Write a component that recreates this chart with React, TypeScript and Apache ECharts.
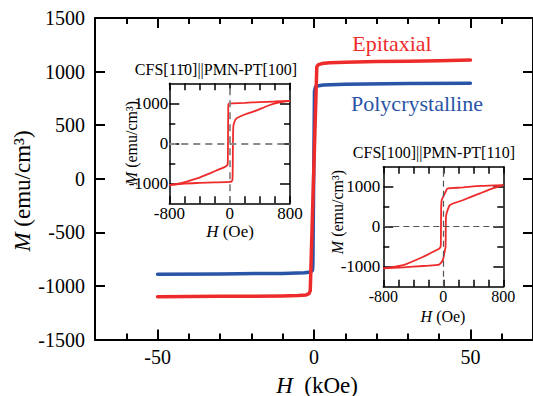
import React, { useEffect, useRef } from "react";
import * as echarts from "echarts";

// ---- Main plot data (H in kOe, M in emu/cm3) ----
const epiH = [-50, -40, -30, -20, -10, -5, -2.5, -1.6, -1.2, 0.9, 1.3, 2.5, 5, 10, 20, 30, 40, 50];
const epiM = [-1100, -1099, -1097, -1096, -1094, -1090, -1084, -1072, -1045, 1045, 1062, 1075, 1083, 1088, 1093, 1097, 1102, 1107];
const polyH = [-50, -30, -10, -3, -1, -0.5, -0.35, 0.15, 0.5, 1, 3, 10, 30, 50];
const polyM = [-890, -888, -883, -878, -870, -855, -800, 820, 858, 866, 875, 882, 888, 891];

// ---- Inset 1: CFS[1-10]||PMN-PT[100] (H in Oe) ----
const in1DescH = [800, 600, 400, 200, 50, 0, -12, -18, -22, -26, -40, -62, -150, -261, -400, -570, -700, -800];
const in1DescM = [1062, 1045, 1030, 1012, 1000, 995, 985, 950, 0, -520, -565, -590, -660, -750, -860, -958, -1015, -1045];
const in1AscH = [-800, -600, -400, -200, 0, 25, 38, 44, 48, 60, 93, 200, 313, 534, 650, 800];
const in1AscM = [-1045, -1005, -990, -978, -965, -955, -900, 0, 400, 520, 625, 720, 792, 958, 1020, 1062];

// ---- Inset 2: CFS[100]||PMN-PT[110] ----
const in2DescH = [800, 500, 267, 100, 53, 22, -21, -28, -31, -34, -50, -89, -267, -533, -800];
const in2DescM = [1040, 1020, 985, 962, 950, 833, 667, 500, 0, -480, -540, -583, -750, -958, -1040];
const in2AscH = [-800, -533, -267, -100, -53, -5, 9, 30, 33, 36, 44, 89, 267, 489, 650, 800];
const in2AscM = [-1040, -1015, -983, -962, -945, -833, -708, -500, 0, 250, 333, 542, 667, 833, 950, 1040];

// ---- Tick labels ----
const mainXLabels = [-50, 0, 50];
const mainXMinor = [-60, -40, -30, -20, -10, 10, 20, 30, 40, 60];
const insetXLabels = [-800, 0, 800];
const insetYLabels = [-1000, 0, 1000];
const insetYMinor = [-500, 500];

const RED = "#ee2b2b";
const BLUE = "#2a54a6";
const FONT = "'Liberation Serif', 'Times New Roman', serif";

const zip = (h: number[], m: number[]) => h.map((x, i) => [x, m[i]]);

function axis(o: any) {
  const {
    grid, position, min, max, interval, labels, labelSize, labelMargin,
    ticks, tickInterval, tickLen, line, lineWidth,
  } = o;
  const a: any = {
    type: "value",
    gridIndex: grid,
    position,
    min,
    max,
    splitLine: { show: false },
    axisLine: { show: !!line, onZero: false, lineStyle: { color: "#000", width: lineWidth } },
    axisLabel: labels
      ? {
          show: true,
          customValues: labels === "all" ? undefined : labels,
          formatter: (v: number) => String(v),
          color: "#000",
          fontSize: labelSize,
          fontFamily: FONT,
          margin: labelMargin,
        }
      : { show: false },
    axisTick: {
      show: true,
      inside: true,
      length: tickLen,
      lineStyle: { color: "#000", width: lineWidth },
    },
  };
  if (interval !== undefined) a.interval = interval;
  if (ticks) a.axisTick.customValues = ticks;
  if (tickInterval !== undefined) a.interval = tickInterval;
  return a;
}

function text(x: number, y: number, str: string, size: number, color = "#000", rot = 0) {
  return {
    type: "text",
    x,
    y,
    rotation: rot,
    silent: true,
    style: {
      text: str,
      fill: color,
      fontSize: size,
      fontFamily: FONT,
      align: "center",
      verticalAlign: "middle",
      textAlign: "center",
      textVerticalAlign: "middle",
      rich: {
        i: { fontStyle: "italic", fontSize: size, fontFamily: FONT, fill: color },
      },
    },
  };
}

export default function App() {
  const ref = useRef<HTMLDivElement>(null);
  useEffect(() => {
    if (!ref.current) return;
    const chart = echarts.init(ref.current, null, { renderer: "svg" });
    const mainLW = 2;
    const inLW = 1.5;
    const option: any = {
      animation: false,
      textStyle: { fontFamily: FONT },
      grid: [
        { left: 95, top: 18, width: 440, height: 321.5, show: false },
        { left: 169.3, top: 83.3, width: 120.7, height: 120, show: false },
        { left: 383.3, top: 166.7, width: 120, height: 120, show: false },
      ],
      xAxis: [
        axis({ grid: 0, position: "bottom", min: -70, max: 70, labels: mainXLabels, labelSize: 20, labelMargin: 7, ticks: mainXLabels, tickLen: 10, line: true, lineWidth: mainLW }),
        axis({ grid: 0, position: "bottom", min: -70, max: 70, ticks: mainXMinor, tickLen: 6, line: false, lineWidth: mainLW }),
        axis({ grid: 0, position: "top", min: -70, max: 70, ticks: mainXLabels, tickLen: 10, line: true, lineWidth: mainLW }),
        axis({ grid: 0, position: "top", min: -70, max: 70, ticks: mainXMinor, tickLen: 6, line: false, lineWidth: mainLW }),
        axis({ grid: 1, position: "bottom", min: -800, max: 800, labels: insetXLabels, labelSize: 17, labelMargin: 2, tickInterval: 200, tickLen: 7, line: true, lineWidth: inLW }),
        axis({ grid: 1, position: "top", min: -800, max: 800, tickInterval: 200, tickLen: 7, line: true, lineWidth: inLW }),
        axis({ grid: 2, position: "bottom", min: -800, max: 800, labels: insetXLabels, labelSize: 16, labelMargin: 2, tickInterval: 200, tickLen: 7, line: true, lineWidth: inLW }),
        axis({ grid: 2, position: "top", min: -800, max: 800, tickInterval: 200, tickLen: 7, line: true, lineWidth: inLW }),
      ],
      yAxis: [
        axis({ grid: 0, position: "left", min: -1500, max: 1500, interval: 500, labels: "all", labelSize: 20, labelMargin: 10, tickLen: 10, line: true, lineWidth: mainLW }),
        axis({ grid: 0, position: "right", min: -1500, max: 1500, interval: 500, tickLen: 10, line: true, lineWidth: mainLW }),
        axis({ grid: 1, position: "left", min: -1500, max: 1500, labels: insetYLabels, labelSize: 17, labelMargin: 1, ticks: insetYLabels, tickLen: 10, line: true, lineWidth: inLW }),
        axis({ grid: 1, position: "left", min: -1500, max: 1500, ticks: insetYMinor, tickLen: 6, line: false, lineWidth: inLW }),
        axis({ grid: 1, position: "right", min: -1500, max: 1500, ticks: insetYLabels, tickLen: 10, line: true, lineWidth: inLW }),
        axis({ grid: 1, position: "right", min: -1500, max: 1500, ticks: insetYMinor, tickLen: 6, line: false, lineWidth: inLW }),
        axis({ grid: 2, position: "left", min: -1500, max: 1500, labels: insetYLabels, labelSize: 17, labelMargin: 3, ticks: insetYLabels, tickLen: 10, line: true, lineWidth: inLW }),
        axis({ grid: 2, position: "left", min: -1500, max: 1500, ticks: insetYMinor, tickLen: 6, line: false, lineWidth: inLW }),
        axis({ grid: 2, position: "right", min: -1500, max: 1500, ticks: insetYLabels, tickLen: 10, line: true, lineWidth: inLW }),
        axis({ grid: 2, position: "right", min: -1500, max: 1500, ticks: insetYMinor, tickLen: 6, line: false, lineWidth: inLW }),
      ],
      series: [
        {
          name: "Polycrystalline", type: "line", xAxisIndex: 0, yAxisIndex: 0, showSymbol: false,
          data: zip(polyH, polyM), lineStyle: { color: BLUE, width: 3.5, cap: "round", join: "round" },
        },
        {
          name: "Epitaxial", type: "line", xAxisIndex: 0, yAxisIndex: 0, showSymbol: false,
          data: zip(epiH, epiM), lineStyle: { color: RED, width: 3.5, cap: "round", join: "round" },
        },
        {
          type: "line", xAxisIndex: 4, yAxisIndex: 2, showSymbol: false, smooth: 0.2,
          data: zip(in1DescH, in1DescM), lineStyle: { color: RED, width: 1.8 },
          markLine: {
            silent: true, symbol: "none", label: { show: false },
            lineStyle: { color: "#8a8a8a", type: [7, 5], width: 1.8 },
            data: [{ xAxis: 0 }, { yAxis: 0 }],
          },
        },
        {
          type: "line", xAxisIndex: 4, yAxisIndex: 2, showSymbol: false, smooth: 0.2,
          data: zip(in1AscH, in1AscM), lineStyle: { color: RED, width: 1.8 },
        },
        {
          type: "line", xAxisIndex: 6, yAxisIndex: 6, showSymbol: false, smooth: 0.2,
          data: zip(in2DescH, in2DescM), lineStyle: { color: RED, width: 1.8 },
          markLine: {
            silent: true, symbol: "none", label: { show: false },
            lineStyle: { color: "#555", type: [6, 4], width: 1.2 },
            data: [{ xAxis: 0 }, { yAxis: 0 }],
          },
        },
        {
          type: "line", xAxisIndex: 6, yAxisIndex: 6, showSymbol: false, smooth: 0.2,
          data: zip(in2AscH, in2AscM), lineStyle: { color: RED, width: 1.8 },
        },
      ],
      graphic: [
        text(22, 191, "{i|M} (emu/cm³)", 23, "#000", Math.PI / 2),
        text(317, 385, "{i|H}  (kOe)", 23),
        text(392, 43, "Epitaxial", 22, RED),
        text(417, 103, "Polycrystalline", 22, BLUE),
        text(216, 69, "CFS[11\u03040]||PMN-PT[100]", 16),
        text(230, 231, "{i|H} (Oe)", 17),
        text(131, 143, "{i|M} (emu/cm³)", 16, "#000", Math.PI / 2),
        text(434, 152, "CFS[100]||PMN-PT[110]", 16),
        text(443, 316, "{i|H} (Oe)", 16),
        text(337, 212, "{i|M} (emu/cm³)", 16, "#000", Math.PI / 2),
      ],
    };
    chart.setOption(option);
    return () => chart.dispose();
  }, []);
  return (
    <div
      ref={ref}
      style={{ position: "fixed", left: 0, top: 0, width: 533, height: 396, background: "#fff" }}
    />
  );
}
